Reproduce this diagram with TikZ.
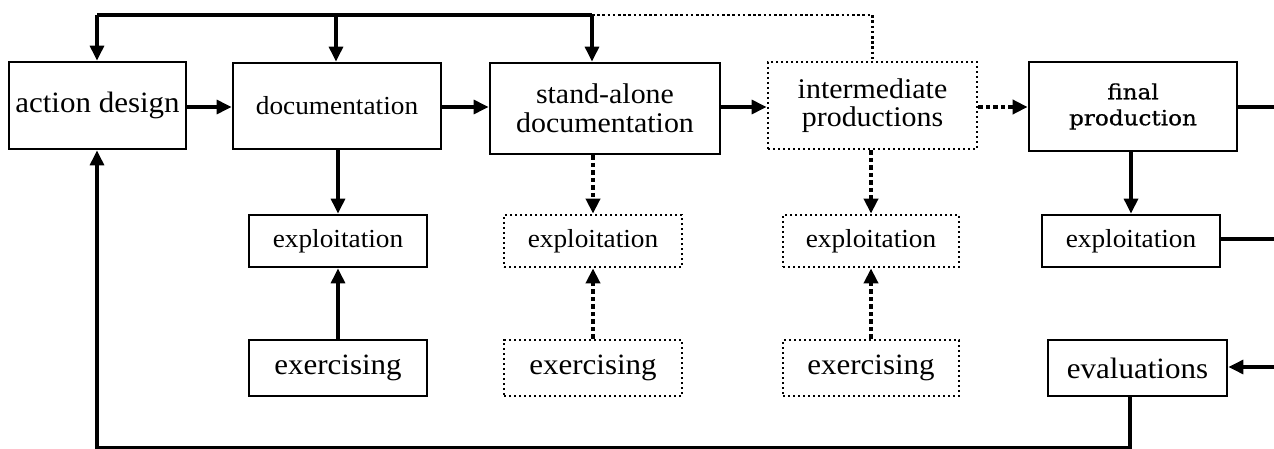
\documentclass[tikz,border=0pt]{standalone}
\usepackage{fontspec}
\setmainfont[FakeStretch=1.05]{Liberation Serif}
\newfontfamily\fpfont[FakeStretch=1.1,FakeBold=0.6]{DejaVu Serif}
\usetikzlibrary{arrows.meta}
\begin{document}
\begin{tikzpicture}[x=1pt,y=-1pt,
  box/.style={draw, line width=2.8pt, inner sep=0pt, align=center},
  dbox/.style={box, dash pattern=on 2.4pt off 2.6pt},
  big/.style={font=\fontsize{29.5pt}{26pt}\selectfont},
  two/.style={font=\fontsize{28.5pt}{28.5pt}\selectfont},
  mid/.style={font=\fontsize{26pt}{26pt}\selectfont},
  lnk/.style={line width=3.2pt},
  arr/.style={line width=3.2pt, -{Triangle[length=15pt,width=14pt]}},
  darr/.style={line width=3.8pt, dash pattern=on 4.5pt off 3pt, -{Triangle[length=15pt,width=14pt]}},
  dlnk/.style={line width=2.8pt, dash pattern=on 2.6pt off 2.6pt}
]
\useasboundingbox (0,0) rectangle (1274,449);
\fill[white] (0,0) rectangle (1274,449);

% top row
\node[box,big,minimum width=177pt,minimum height=87pt] (ad) at (97.5,105.5) {action design};
\node[box,mid,minimum width=208pt,minimum height=86pt] (doc) at (337,106) {documentation};
\node[box,two,minimum width=230pt,minimum height=91pt] (sa) at (605,108.5) {stand-alone\\documentation};
\node[dbox,two,minimum width=209pt,minimum height=87pt] (ip) at (872.5,105.5) {intermediate\\productions};
\node[box,font=\fpfont\fontsize{21pt}{26pt}\selectfont,minimum width=208pt,minimum height=89pt] (fp) at (1133,106.5) {final\\production};

% exploitation row
\node[box,mid,minimum width=178pt,minimum height=52pt] (ex1) at (338,241) {exploitation};
\node[dbox,mid,minimum width=178pt,minimum height=52pt] (ex2) at (593,241) {exploitation};
\node[dbox,mid,minimum width=176pt,minimum height=52pt] (ex3) at (871,241) {exploitation};
\node[box,mid,minimum width=178pt,minimum height=52pt] (ex4) at (1131,241) {exploitation};

% exercising row
\node[box,big,minimum width=178pt,minimum height=56pt] (er1) at (338,368) {exercising};
\node[dbox,big,minimum width=178pt,minimum height=56pt] (er2) at (593,368) {exercising};
\node[dbox,big,minimum width=176pt,minimum height=56pt] (er3) at (871,368) {exercising};
\node[box,big,minimum width=179pt,minimum height=56pt] (ev) at (1137.5,368) {evaluations};

% coordinates
\coordinate (t1) at (97,15);
\coordinate (t2) at (336,15);
\coordinate (t3) at (592,15);
\coordinate (t4) at (872.5,15);
\coordinate (r1) at (1275,107);
\coordinate (r2) at (1275,239);
\coordinate (r3) at (1275,367);
\coordinate (b1) at (1130,447.5);
\coordinate (b2) at (97,447.5);

% top feedback line
\draw[lnk] (t1) -- (t3);
\draw[arr] (t1) -- (t1 |- ad.north);
\draw[arr] (t2) -- (t2 |- doc.north);
\draw[arr] (t3) -- (t3 |- sa.north);
\draw[dlnk] (t3) -- (t4) -- (ip.north);

% main flow
\draw[arr] (ad.east |- 0,107) -- (doc.west |- 0,107);
\draw[arr] (doc.east |- 0,107) -- (sa.west |- 0,107);
\draw[arr] (sa.east |- 0,107) -- (ip.west |- 0,107);
\draw[darr] (ip.east |- 0,107) -- (fp.west |- 0,107);
\draw[lnk] (fp.east |- r1) -- (r1);

% vertical links
\draw[arr] (ex1.north |- doc.south) -- (ex1.north);
\draw[arr] (er1.north) -- (ex1.south);
\draw[darr] (ex2.north |- sa.south) -- (ex2.north);
\draw[darr] (er2.north) -- (ex2.south);
\draw[darr] (ex3.north |- ip.south) -- (ex3.north);
\draw[darr] (er3.north) -- (ex3.south);
\draw[arr] (ex4.north |- fp.south) -- (ex4.north);

% right side
\draw[lnk] (ex4.east |- r2) -- (r2);
\draw[arr] (r3) -- (ev.east |- r3);

% bottom feedback
\draw[arr] (b1 |- ev.south) -- (b1) -- (b2) -- (b2 |- ad.south);
\end{tikzpicture}
\end{document}
